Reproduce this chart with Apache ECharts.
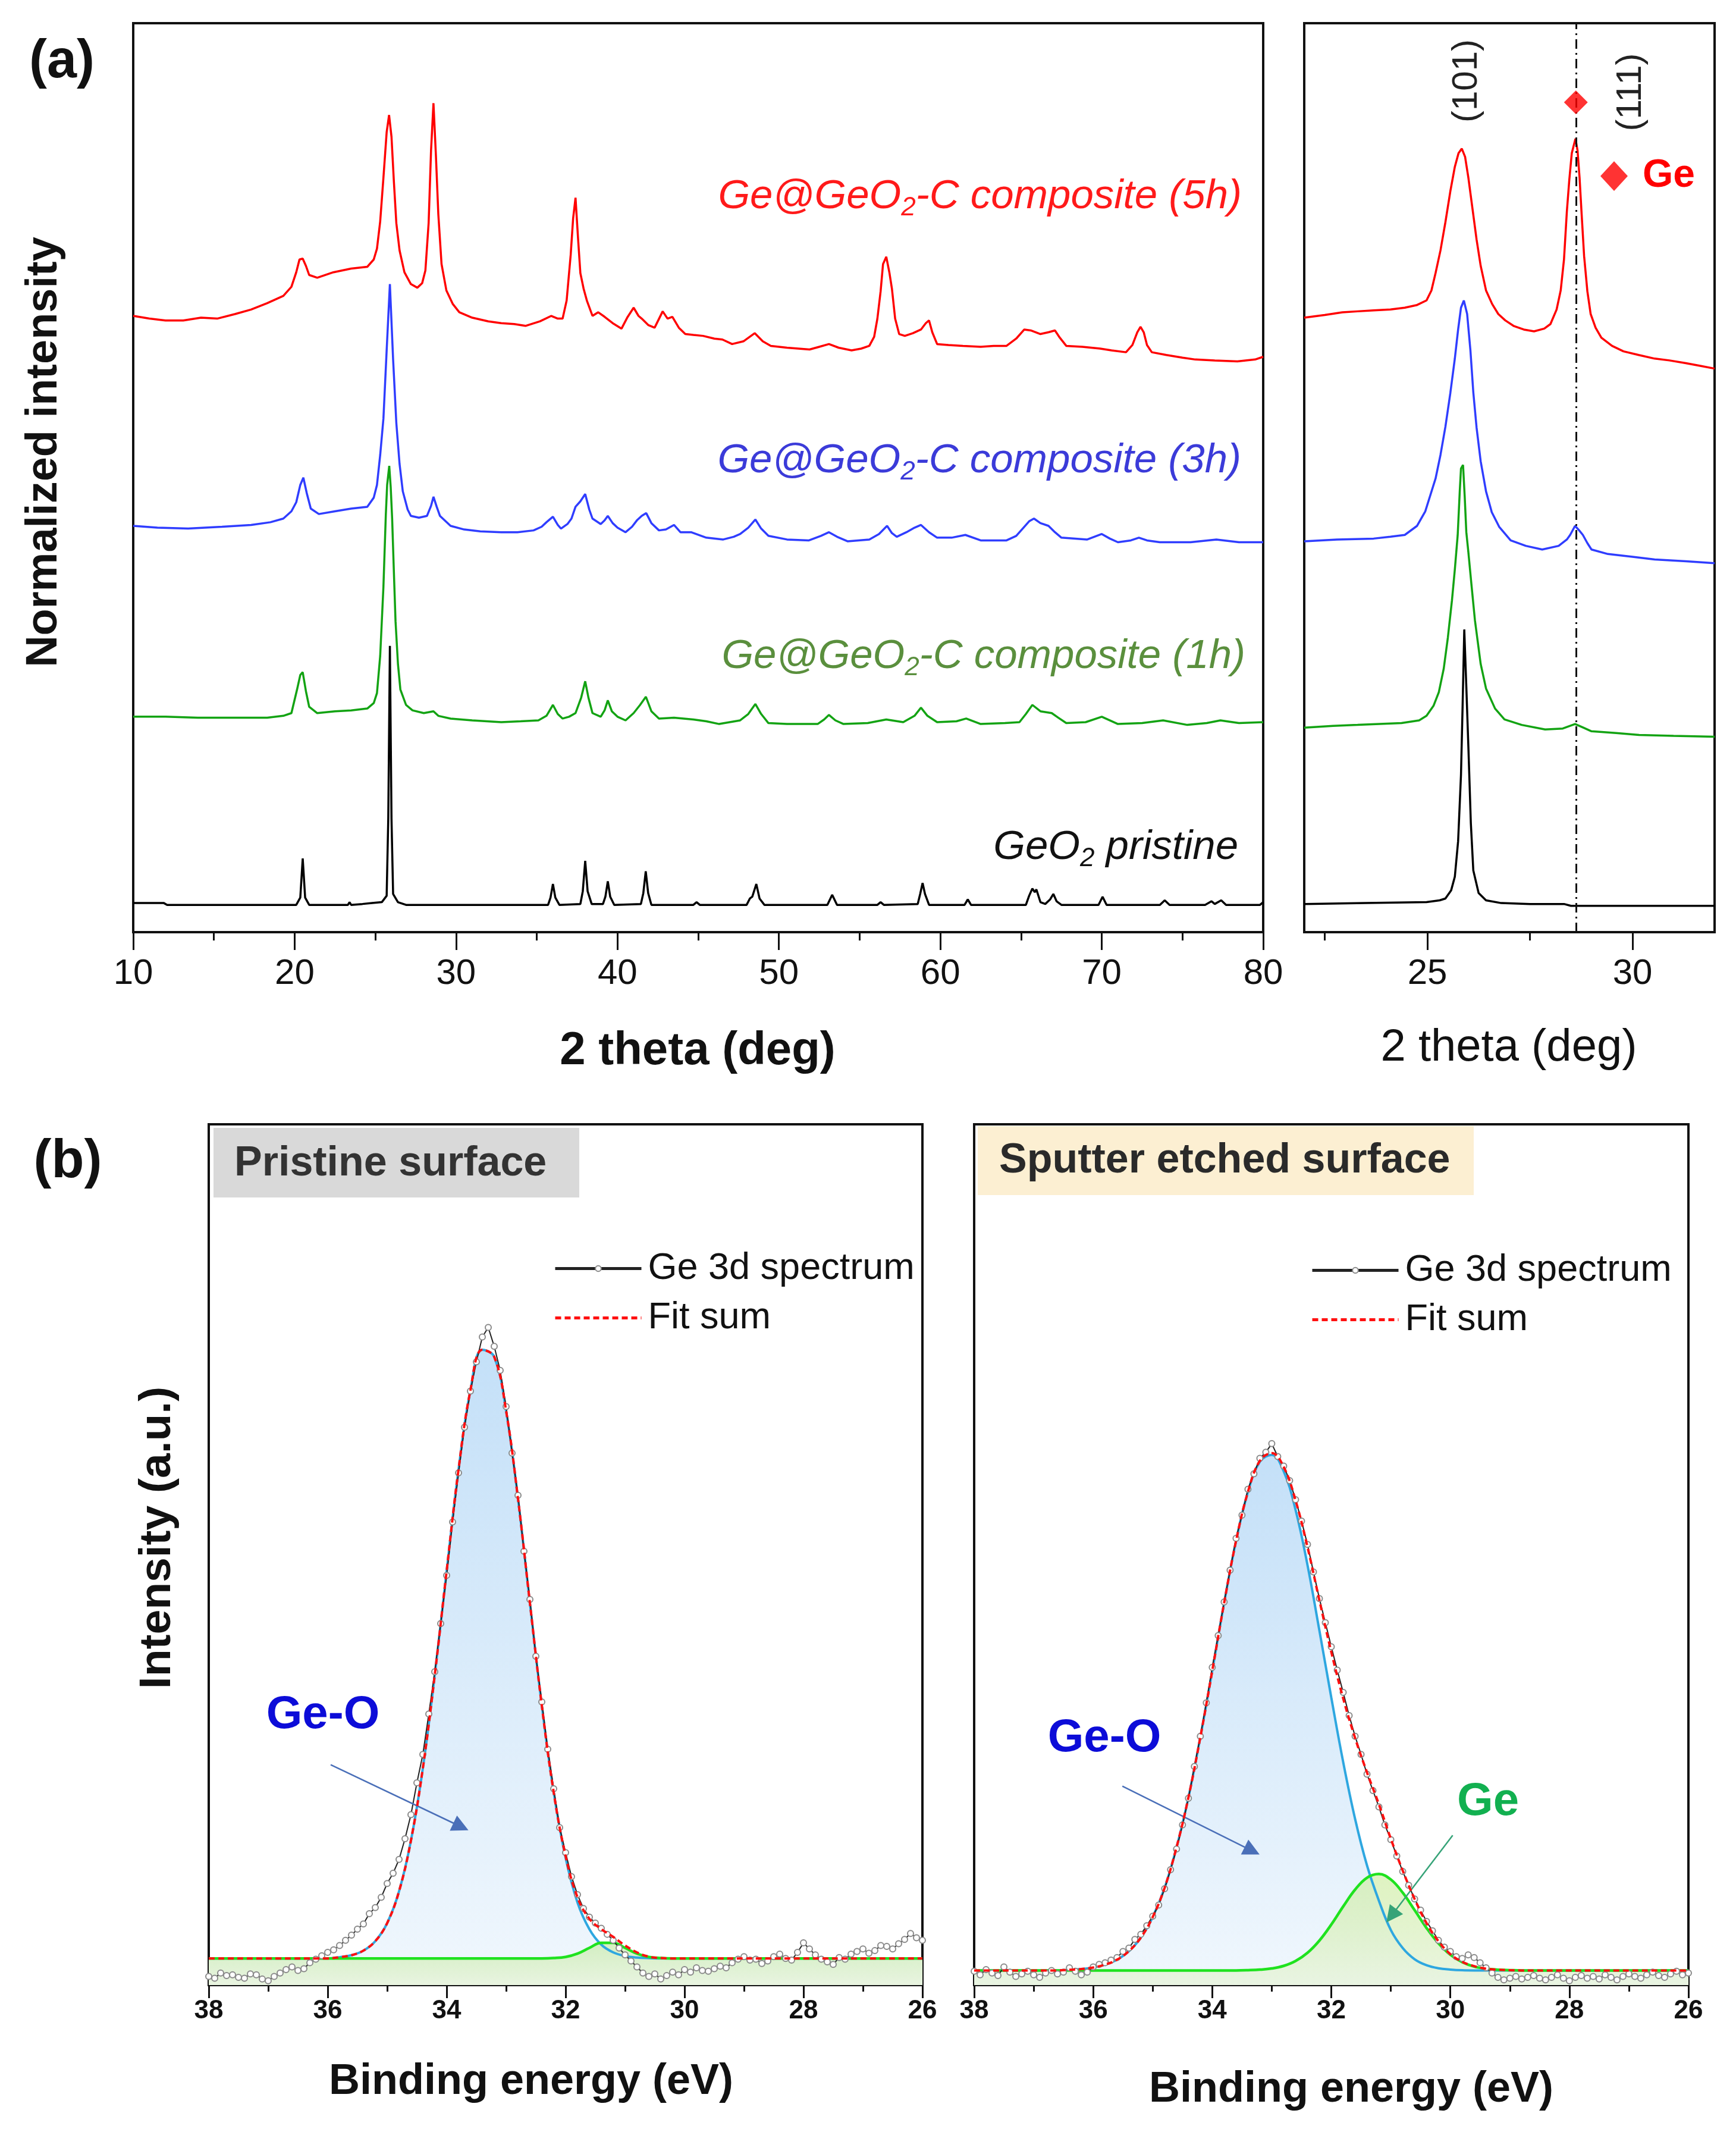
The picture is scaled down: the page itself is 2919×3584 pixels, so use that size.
<!DOCTYPE html>
<html><head><meta charset="utf-8">
<script src="https://cdn.jsdelivr.net/npm/echarts/dist/echarts.min.js"></script>
<style>html,body{margin:0;padding:0;background:#fff}#c{width:2919px;height:3584px}</style>
</head><body><div id="c"></div><script>
// ---------------- Panel (a): XRD, main view (2theta, normalized intensity incl. offset) ----------------
const red5h = [[10.0,67.8],[11.0,67.5],[12.0,67.3],[13.1,67.3],[14.2,67.6],[15.2,67.5],[16.3,68.0],[17.3,68.5],[18.3,69.2],[19.3,70.0],[19.8,71.0],[20.1,72.6],[20.3,74.0],[20.5,74.1],[20.7,73.3],[20.9,72.3],[21.4,72.0],[22.4,72.6],[23.5,73.0],[24.5,73.2],[24.9,74.0],[25.1,75.2],[25.3,78.2],[25.5,83.0],[25.7,88.0],[25.85,89.9],[26.0,87.5],[26.15,82.5],[26.3,78.0],[26.5,75.0],[26.8,72.6],[27.2,71.3],[27.6,70.9],[27.9,71.4],[28.1,72.8],[28.3,78.0],[28.45,86.0],[28.6,91.2],[28.75,85.5],[28.9,79.0],[29.1,73.5],[29.4,70.6],[29.8,69.1],[30.2,68.2],[31.0,67.6],[32.0,67.2],[32.8,67.0],[33.6,66.9],[34.3,66.7],[35.2,67.2],[35.9,67.8],[36.3,67.5],[36.6,67.5],[36.85,69.5],[37.1,74.5],[37.25,78.5],[37.4,80.8],[37.55,76.5],[37.7,72.5],[37.9,70.8],[38.1,69.5],[38.45,67.8],[38.8,68.2],[39.2,67.7],[39.7,67.0],[40.25,66.4],[40.6,67.6],[41.0,68.7],[41.3,67.8],[41.5,67.5],[41.9,66.8],[42.3,66.5],[42.8,68.3],[43.1,67.5],[43.4,67.7],[43.8,66.5],[44.2,65.8],[44.7,65.7],[45.3,65.6],[46.0,65.3],[46.5,65.2],[47.1,64.7],[47.8,65.0],[48.5,65.9],[49.0,65.0],[49.5,64.5],[50.5,64.3],[51.9,64.1],[52.5,64.4],[53.1,64.7],[53.7,64.3],[54.5,64.0],[55.1,64.2],[55.6,64.5],[55.9,65.5],[56.1,67.5],[56.3,70.5],[56.45,73.5],[56.65,74.3],[56.85,72.5],[57.0,70.8],[57.2,67.5],[57.45,65.8],[57.8,65.6],[58.3,65.9],[58.8,66.3],[59.1,67.0],[59.3,67.3],[59.5,66.0],[59.8,64.7],[60.5,64.6],[61.4,64.5],[62.5,64.4],[63.3,64.5],[64.1,64.5],[64.7,65.3],[65.2,66.3],[65.6,66.2],[66.2,65.8],[66.7,66.0],[67.1,66.2],[67.4,65.4],[67.8,64.5],[68.8,64.4],[69.9,64.2],[70.6,64.0],[71.5,63.8],[71.9,64.6],[72.2,66.0],[72.4,66.6],[72.6,66.0],[72.8,64.6],[73.1,63.8],[74.0,63.5],[75.0,63.2],[75.8,63.0],[77.0,62.9],[78.4,62.8],[79.5,63.0],[80.0,63.3]];
const blue3h = [[10.0,44.7],[11.5,44.5],[13.4,44.4],[15.5,44.6],[17.3,44.8],[18.5,45.1],[19.3,45.5],[19.8,46.3],[20.1,47.3],[20.35,49.2],[20.54,50.0],[20.75,48.3],[21.0,46.6],[21.5,46.0],[22.5,46.3],[23.5,46.6],[24.5,46.8],[24.9,47.8],[25.1,49.2],[25.3,52.5],[25.5,56.5],[25.7,64.0],[25.9,71.3],[26.1,63.0],[26.3,56.0],[26.5,51.5],[26.7,48.5],[27.0,46.5],[27.2,45.8],[27.7,45.6],[28.2,45.8],[28.45,46.9],[28.6,47.9],[28.8,46.8],[29.0,45.8],[29.66,44.7],[30.5,44.3],[31.5,44.1],[32.8,44.0],[33.8,44.0],[34.8,44.2],[35.3,44.6],[35.6,45.1],[36.0,45.7],[36.3,44.8],[36.5,44.4],[36.9,44.9],[37.15,45.5],[37.4,46.8],[37.7,47.4],[38.0,48.2],[38.25,46.5],[38.45,45.5],[38.96,44.9],[39.2,45.3],[39.4,45.8],[39.7,45.0],[40.0,44.5],[40.5,44.0],[40.9,44.6],[41.2,45.3],[41.5,45.8],[41.78,46.1],[42.1,45.0],[42.57,44.2],[43.0,44.3],[43.5,44.8],[43.9,44.0],[44.56,44.0],[45.5,43.4],[46.55,43.2],[47.2,43.5],[47.6,43.8],[48.1,44.5],[48.54,45.4],[48.9,44.4],[49.35,43.6],[50.5,43.2],[51.86,43.1],[52.6,43.6],[53.1,44.0],[53.6,43.5],[54.25,43.0],[55.6,43.2],[56.2,43.8],[56.7,44.7],[57.0,43.9],[57.3,43.5],[57.9,44.0],[58.4,44.5],[58.8,44.8],[59.3,44.0],[59.8,43.4],[60.7,43.4],[61.55,43.7],[62.5,43.1],[64.1,43.1],[64.7,43.6],[65.15,44.5],[65.5,45.2],[65.8,45.5],[66.2,45.0],[66.7,44.7],[67.1,44.0],[67.5,43.4],[69.1,43.2],[70.0,43.8],[70.5,43.3],[71.0,42.9],[71.8,43.1],[72.3,43.4],[72.8,43.1],[73.6,42.9],[75.5,42.9],[77.1,43.2],[78.5,42.9],[80.0,42.9]];
const green1h = [[10.0,23.7],[12.0,23.7],[14.0,23.6],[16.0,23.6],[18.3,23.6],[19.3,23.8],[19.8,24.1],[20.15,26.7],[20.35,28.3],[20.5,28.6],[20.7,26.5],[20.9,24.8],[21.4,24.1],[22.5,24.3],[23.5,24.4],[24.5,24.6],[24.9,25.2],[25.1,26.3],[25.3,30.4],[25.5,38.0],[25.65,46.0],[25.73,49.2],[25.86,51.3],[25.95,49.0],[26.04,45.5],[26.15,39.5],[26.25,34.2],[26.4,29.5],[26.55,26.7],[26.9,25.0],[27.3,24.4],[28.0,24.1],[28.3,24.2],[28.6,24.3],[28.9,23.8],[29.66,23.5],[31.0,23.3],[32.8,23.1],[34.0,23.2],[35.1,23.3],[35.6,23.8],[36.0,25.0],[36.3,24.0],[36.6,23.5],[37.0,23.7],[37.4,24.1],[37.75,25.8],[38.0,27.6],[38.2,25.8],[38.45,24.1],[38.96,23.7],[39.2,24.4],[39.4,25.5],[39.65,24.3],[40.0,23.7],[40.5,23.3],[41.0,24.1],[41.4,25.0],[41.76,25.9],[42.1,24.3],[42.57,23.5],[43.5,23.6],[44.7,23.4],[45.5,23.2],[46.3,22.9],[47.6,23.3],[48.1,24.0],[48.54,25.1],[48.9,24.0],[49.35,23.0],[50.5,22.9],[52.4,22.9],[52.8,23.4],[53.1,23.9],[53.5,23.3],[54.0,22.9],[55.5,23.0],[56.65,23.4],[57.7,23.1],[58.4,23.8],[58.8,24.7],[59.2,23.8],[59.8,23.1],[61.0,23.2],[61.6,23.5],[62.5,22.9],[64.0,23.0],[64.9,23.1],[65.3,24.0],[65.7,25.0],[66.2,24.3],[66.9,24.1],[67.3,23.6],[67.8,23.0],[69.0,23.1],[70.0,23.7],[71.0,22.9],[72.5,23.0],[73.8,23.3],[75.3,22.8],[76.5,23.0],[77.35,23.3],[78.5,23.0],[80.0,23.1]];
const blackPristine = [[10.0,3.2],[11.9,3.2],[12.1,3.0],[16.0,3.0],[20.1,3.0],[20.35,3.8],[20.5,8.1],[20.65,3.8],[20.9,3.0],[23.3,3.0],[23.4,3.3],[23.5,3.0],[24.2,3.1],[24.8,3.2],[25.4,3.3],[25.7,4.0],[25.8,12.5],[25.9,31.5],[26.0,12.5],[26.1,4.2],[26.4,3.3],[26.9,3.0],[35.7,3.0],[35.85,3.8],[36.0,5.3],[36.15,3.8],[36.4,3.0],[37.7,3.1],[37.85,4.5],[38.0,7.85],[38.15,4.5],[38.4,3.1],[39.1,3.1],[39.25,3.9],[39.4,5.6],[39.55,3.9],[39.8,3.0],[41.45,3.1],[41.6,4.3],[41.75,6.7],[41.9,4.3],[42.1,3.0],[44.7,3.0],[44.9,3.3],[45.1,3.0],[48.0,3.0],[48.2,3.7],[48.35,3.9],[48.6,5.3],[48.8,3.7],[49.1,3.0],[53.0,3.0],[53.3,4.1],[53.6,3.0],[56.1,3.0],[56.3,3.3],[56.5,3.0],[58.6,3.1],[58.75,4.2],[58.9,5.4],[59.05,4.2],[59.3,3.0],[61.5,3.0],[61.7,3.6],[61.9,3.0],[65.3,3.0],[65.5,4.0],[65.7,4.8],[65.85,4.4],[65.95,4.7],[66.2,3.3],[66.5,3.1],[66.8,3.6],[67.0,4.2],[67.2,3.4],[67.5,3.0],[69.8,3.0],[70.05,3.9],[70.3,3.0],[73.6,3.0],[73.9,3.5],[74.2,3.0],[76.4,3.0],[76.8,3.4],[77.0,3.1],[77.4,3.5],[77.7,3.0],[79.8,3.0],[80.0,3.3]];
// ---------------- Panel (a): inset (22-32 deg) ----------------
const red5hInset = [[22.0,67.6],[22.5,67.9],[22.93,68.2],[23.3,68.3],[23.69,68.4],[24.1,68.5],[24.45,68.7],[24.75,69.0],[24.98,69.5],[25.1,70.6],[25.2,72.5],[25.32,75.0],[25.44,78.1],[25.56,81.5],[25.67,84.2],[25.76,85.7],[25.84,86.2],[25.92,85.3],[26.0,83.0],[26.1,79.6],[26.2,76.2],[26.3,73.3],[26.43,70.6],[26.58,69.1],[26.73,68.0],[26.9,67.3],[27.1,66.7],[27.35,66.3],[27.6,66.1],[27.85,66.4],[28.0,66.9],[28.15,68.5],[28.25,70.6],[28.33,74.0],[28.4,79.3],[28.46,82.8],[28.52,85.7],[28.61,87.3],[28.66,86.0],[28.71,83.0],[28.76,79.0],[28.82,74.4],[28.9,70.5],[28.98,68.0],[29.1,66.5],[29.24,65.4],[29.5,64.5],[29.78,63.9],[30.15,63.5],[30.54,63.1],[30.9,62.9],[31.3,62.6],[31.65,62.3],[32.0,62.0]];
const blue3hInset = [[22.0,43.0],[22.8,43.2],[23.69,43.3],[24.1,43.5],[24.45,43.7],[24.75,44.7],[24.95,46.3],[25.2,49.9],[25.32,52.5],[25.44,55.6],[25.56,59.3],[25.67,63.1],[25.75,66.3],[25.82,68.7],[25.89,69.5],[25.97,68.0],[26.05,64.0],[26.12,59.4],[26.2,55.5],[26.3,51.8],[26.43,48.5],[26.57,46.2],[26.75,44.6],[27.03,43.1],[27.4,42.5],[27.8,42.1],[28.2,42.5],[28.4,43.2],[28.48,43.7],[28.6,44.7],[28.7,44.2],[28.79,43.7],[28.9,42.8],[29.0,42.1],[29.4,41.6],[30.0,41.3],[30.54,41.0],[31.3,40.8],[32.0,40.6]];
const green1hInset = [[22.0,22.5],[22.7,22.7],[23.3,22.8],[24.37,23.0],[24.8,23.3],[24.98,23.8],[25.15,24.9],[25.28,26.4],[25.4,29.0],[25.5,32.4],[25.6,36.5],[25.67,39.9],[25.74,43.7],[25.79,48.5],[25.82,51.0],[25.87,51.4],[25.91,48.0],[25.95,44.0],[26.0,41.8],[26.08,38.0],[26.16,34.3],[26.3,29.5],[26.43,26.8],[26.65,24.6],[26.88,23.4],[27.3,22.8],[27.87,22.3],[28.3,22.4],[28.6,22.9],[28.8,22.5],[29.0,22.1],[29.6,21.9],[30.16,21.7],[31.0,21.6],[32.0,21.5]];
const blackInset = [[22.0,3.1],[23.5,3.2],[24.98,3.3],[25.3,3.5],[25.44,3.7],[25.58,4.6],[25.67,6.1],[25.75,10.0],[25.82,17.3],[25.86,25.0],[25.9,33.3],[25.95,27.0],[26.0,20.4],[26.06,12.0],[26.12,6.8],[26.25,4.3],[26.43,3.5],[26.8,3.2],[27.5,3.1],[28.33,3.1],[28.5,2.9],[32.0,2.9]];
const geMarker = [[28.62, 91.3]];
const geLine = 28.62;
const mainTicks = [10, 80, 10];
const insetMajor = [25, 30];
const insetMinor = [22.5, 27.5];
// ---------------- Panel (b): XPS Ge 3d ----------------
const beData = [38.0,37.9,37.8,37.7,37.6,37.5,37.4,37.3,37.2,37.1,37.0,36.9,36.8,36.7,36.6,36.5,36.4,36.3,36.2,36.1,36.0,35.9,35.8,35.7,35.6,35.5,35.4,35.3,35.2,35.1,35.0,34.9,34.8,34.7,34.6,34.5,34.4,34.3,34.2,34.1,34.0,33.9,33.8,33.7,33.6,33.5,33.4,33.3,33.2,33.1,33.0,32.9,32.8,32.7,32.6,32.5,32.4,32.3,32.2,32.1,32.0,31.9,31.8,31.7,31.6,31.5,31.4,31.3,31.2,31.1,31.0,30.9,30.8,30.7,30.6,30.5,30.4,30.3,30.2,30.1,30.0,29.9,29.8,29.7,29.6,29.5,29.4,29.3,29.2,29.1,29.0,28.9,28.8,28.7,28.6,28.5,28.4,28.3,28.2,28.1,28.0,27.9,27.8,27.7,27.6,27.5,27.4,27.3,27.2,27.1,27.0,26.9,26.8,26.7,26.6,26.5,26.4,26.3,26.2,26.1,26.0];
const pristineSpectrum = [1.0,0.8,1.4,1.1,1.2,0.9,0.8,1.3,1.2,0.7,0.5,1.0,1.4,1.8,2.1,1.7,1.9,2.6,3.0,3.4,3.8,4.1,4.6,5.2,5.8,6.5,7.1,8.3,9.0,10.2,11.8,13.0,14.6,17.0,19.8,23.5,26.8,31.5,36.4,42.0,47.6,53.8,59.5,64.8,69.0,72.4,75.3,76.4,74.2,71.4,67.2,61.8,56.9,50.4,44.8,38.2,32.9,27.4,22.8,18.3,15.4,12.6,10.5,8.9,7.9,7.2,6.6,5.9,5.2,4.3,3.5,2.8,2.1,1.4,1.0,1.3,0.7,1.1,1.5,1.2,1.8,1.5,2.0,1.7,1.6,1.9,2.2,2.0,2.6,3.0,3.3,2.9,3.0,2.5,2.8,3.3,3.6,3.1,2.9,3.8,4.9,4.2,3.5,3.0,2.7,2.4,3.2,3.0,3.6,3.9,4.2,3.7,4.0,4.6,4.5,4.2,4.8,5.3,6.0,5.5,5.2];
const etchedSpectrum = [1.6,1.2,1.8,1.4,1.1,2.1,1.5,1.0,1.3,1.6,1.2,0.9,1.4,1.7,1.3,1.5,2.0,1.6,1.2,1.5,2.1,2.4,2.6,2.9,3.2,3.9,4.3,5.3,5.9,6.9,8.0,9.3,11.2,13.4,15.8,18.6,21.7,25.4,28.9,32.8,36.9,40.6,44.5,48.2,51.9,54.6,57.6,59.4,61.2,61.9,62.9,61.4,60.3,58.6,56.4,53.9,51.2,48.0,44.9,42.1,39.3,36.6,34.0,31.3,28.9,26.8,24.5,22.6,20.7,18.6,16.9,15.0,13.2,11.6,10.0,8.7,7.4,6.3,5.2,4.4,3.9,3.3,3.1,3.5,3.2,2.6,2.0,1.4,0.9,0.6,0.8,1.0,0.7,0.9,1.1,0.8,0.6,0.9,1.2,0.8,0.5,0.9,1.1,0.8,1.0,0.7,1.2,0.9,0.6,1.0,1.3,1.0,0.8,1.2,1.5,1.1,0.9,1.3,1.6,1.2,1.4];
const beFit = [38.0,37.8,37.6,37.4,37.2,37.0,36.8,36.6,36.4,36.2,36.0,35.8,35.6,35.4,35.2,35.0,34.8,34.6,34.4,34.2,34.0,33.8,33.6,33.4,33.2,33.0,32.8,32.6,32.4,32.2,32.0,31.8,31.6,31.4,31.2,31.0,30.8,30.6,30.4,30.2,30.0,29.8,29.6,29.4,29.2,29.0,28.8,28.6,28.4,28.2,28.0,27.8,27.6,27.4,27.2,27.0,26.8,26.6,26.4,26.2,26.0];
const pristineGeO = [3.1,3.1,3.1,3.1,3.1,3.1,3.1,3.1,3.1,3.1,3.1,3.24,3.47,4.0,5.1,7.2,10.9,16.8,25.2,36.0,48.1,59.9,69.1,73.8,73.0,66.7,56.5,44.4,32.5,22.4,14.8,9.6,6.5,4.7,3.8,3.38,3.2,3.13,3.1,3.1,3.1,3.1,3.1,3.1,3.1,3.1,3.1,3.1,3.1,3.1,3.1,3.1,3.1,3.1,3.1,3.1,3.1,3.1,3.1,3.1,3.1];
const pristineGe = [3.1,3.1,3.1,3.1,3.1,3.1,3.1,3.1,3.1,3.1,3.1,3.1,3.1,3.1,3.1,3.1,3.1,3.1,3.1,3.1,3.1,3.1,3.1,3.1,3.1,3.1,3.1,3.1,3.1,3.14,3.27,3.66,4.32,4.91,4.91,4.32,3.66,3.27,3.14,3.1,3.1,3.1,3.1,3.1,3.1,3.1,3.1,3.1,3.1,3.1,3.1,3.1,3.1,3.1,3.1,3.1,3.1,3.1,3.1,3.1,3.1];
const pristineFit = [3.1,3.1,3.1,3.1,3.1,3.1,3.1,3.1,3.1,3.1,3.1,3.24,3.47,4.0,5.1,7.2,10.9,16.8,25.2,36.0,48.1,59.9,69.1,73.8,73.0,66.7,56.5,44.4,32.5,22.4,15.0,10.2,7.7,6.5,5.6,4.6,3.8,3.3,3.14,3.1,3.1,3.1,3.1,3.1,3.1,3.1,3.1,3.1,3.1,3.1,3.1,3.1,3.1,3.1,3.1,3.1,3.1,3.1,3.1,3.1,3.1];
const etchedGeO = [1.7,1.7,1.7,1.7,1.7,1.7,1.7,1.7,1.78,1.86,2.04,2.37,2.95,3.94,5.51,7.9,11.3,16.0,21.8,28.8,36.5,44.4,51.6,57.3,60.8,61.6,59.7,55.2,48.8,41.2,33.4,25.9,19.3,13.9,9.8,6.4,4.3,3.0,2.3,1.95,1.8,1.72,1.7,1.7,1.7,1.7,1.7,1.7,1.7,1.7,1.7,1.7,1.7,1.7,1.7,1.7,1.7,1.7,1.7,1.7,1.7];
const etchedGe = [1.7,1.7,1.7,1.7,1.7,1.7,1.7,1.7,1.7,1.7,1.7,1.7,1.7,1.7,1.7,1.7,1.7,1.7,1.7,1.7,1.7,1.7,1.7,1.73,1.79,1.93,2.23,2.8,3.75,5.17,7.03,9.13,11.09,12.47,12.9,12.26,10.73,8.7,6.63,4.85,3.52,2.66,2.15,1.9,1.78,1.73,1.7,1.7,1.7,1.7,1.7,1.7,1.7,1.7,1.7,1.7,1.7,1.7,1.7,1.7,1.7];
const etchedFit = [1.7,1.7,1.7,1.7,1.7,1.7,1.7,1.7,1.78,1.86,2.04,2.37,2.95,3.94,5.51,7.9,11.3,16.0,21.8,28.8,36.5,44.4,51.6,57.3,60.9,61.8,60.2,56.3,50.9,44.7,38.7,33.3,28.7,24.7,21.0,17.0,13.3,10.0,7.2,5.1,3.6,2.7,2.2,1.9,1.78,1.73,1.7,1.7,1.7,1.7,1.7,1.7,1.7,1.7,1.7,1.7,1.7,1.7,1.7,1.7,1.7];
const xpsTicks = [26, 38, 2];

// ---------------- build chart ----------------
const FONT = "'Liberation Sans', Arial, Helvetica, sans-serif";
const zip = (xs, ys) => xs.map((x, i) => [x, ys[i]]);
const grad = (a, b) => new echarts.graphic.LinearGradient(0, 0, 0, 1, [{offset: 0, color: a}, {offset: 1, color: b}]);

function ln(name, data, color, xi, yi, w, extra) {
  return Object.assign({name, type: 'line', xAxisIndex: xi, yAxisIndex: yi, data, showSymbol: false, symbol: 'none',
    lineStyle: {color, width: w}, itemStyle: {color}, silent: true, z: 3}, extra || {});
}
function area(data, xi, yi, a, b, z) {
  return {type: 'line', xAxisIndex: xi, yAxisIndex: yi, data, showSymbol: false, symbol: 'none', silent: true,
    lineStyle: {width: 0}, areaStyle: {color: grad(a, b), opacity: 1}, smooth: 0.4, z: z};
}
function arrow(from, to, color) {
  return [{coord: from, symbol: 'none', lineStyle: {color, width: 2.5, type: 'solid'}},
          {coord: to, symbol: 'triangle', symbolSize: 28, lineStyle: {color, width: 2.5, type: 'solid'}, itemStyle: {color}}];
}
const mlBase = {silent: true, animation: false, label: {show: false}, emphasis: {disabled: true}, lineStyle: {type: 'solid', width: 2.5}};

const axisLineS = {lineStyle: {color: '#111', width: 4}};
const xMain = {type: 'value', gridIndex: 0, min: mainTicks[0], max: mainTicks[1], interval: mainTicks[2],
  axisLine: axisLineS, axisTick: {length: 30, lineStyle: {color: '#111', width: 3}},
  minorTick: {show: true, splitNumber: 2, length: 14, lineStyle: {color: '#111', width: 3}},
  axisLabel: {fontSize: 60, color: '#111', fontFamily: FONT, margin: 40}, splitLine: {show: false}};
const xInset = {type: 'value', gridIndex: 1, min: 22, max: 32, position: 'bottom',
  axisLine: axisLineS, axisTick: {length: 30, customValues: insetMajor, lineStyle: {color: '#111', width: 3}},
  axisLabel: {customValues: insetMajor, fontSize: 60, color: '#111', fontFamily: FONT, margin: 40}, splitLine: {show: false}};
const xInsetMinor = {type: 'value', gridIndex: 1, min: 22, max: 32, position: 'bottom',
  axisLine: {show: false}, axisTick: {length: 14, customValues: insetMinor, lineStyle: {color: '#111', width: 3}},
  axisLabel: {show: false}, splitLine: {show: false}};
function xXps(gi) {
  return {type: 'value', gridIndex: gi, min: xpsTicks[0], max: xpsTicks[1], interval: xpsTicks[2], inverse: true,
    axisLine: axisLineS, axisTick: {length: 22, lineStyle: {color: '#111', width: 3}},
    minorTick: {show: true, splitNumber: 2, length: 11, lineStyle: {color: '#111', width: 3}},
    axisLabel: {fontSize: 44, fontWeight: 'bold', color: '#111', fontFamily: FONT, margin: 22}, splitLine: {show: false}};
}
const yHidden = gi => ({type: 'value', gridIndex: gi, min: 0, max: 100, show: false});
const gridS = {show: true, borderColor: '#111', borderWidth: 4, backgroundColor: 'transparent'};

function T(x, y, text, size, o) {
  o = o || {};
  return {type: 'text', x, y, rotation: o.rot || 0, z: 20, silent: true,
    style: {text, fontSize: size, fontFamily: FONT, fontWeight: o.bold ? 'bold' : 'normal', fontStyle: o.italic ? 'italic' : 'normal',
      fill: o.color || '#111', align: o.align || 'center', verticalAlign: 'middle', rich: o.rich}};
}
function subLabel(x, y, pre, sub, post, color) {
  const r = {n: {fontSize: 69, fontStyle: 'italic', fontFamily: FONT, fill: color, lineHeight: 69, verticalAlign: 'top'},
             s: {fontSize: 44, fontStyle: 'italic', fontFamily: FONT, fill: color, lineHeight: 44, verticalAlign: 'top', padding: [31, 0, 0, 0]}};
  return T(x, y, '{n|' + pre + '}{s|' + sub + '}{n|' + post + '}', 69, {align: 'right', italic: true, color, rich: r});
}
const legendXps = (left, top) => ({data: ['Ge 3d spectrum', {name: 'Fit sum', itemStyle: {opacity: 0}}], left, top, orient: 'vertical',
  itemWidth: 145, itemHeight: 12, itemGap: 20, selectedMode: false, lineStyle: {width: 5},
  textStyle: {fontSize: 63, color: '#111', fontFamily: FONT, padding: [0, 0, 0, 6]}});

const option = {
  animation: false,
  backgroundColor: '#ffffff',
  grid: [
    Object.assign({left: 224, top: 39, width: 1900, height: 1528}, gridS),
    Object.assign({left: 2193, top: 39, width: 690, height: 1528}, gridS),
    Object.assign({left: 351, top: 1890, width: 1200, height: 1447}, gridS),
    Object.assign({left: 1638, top: 1890, width: 1201, height: 1447}, gridS)
  ],
  xAxis: [xMain, xInset, xInsetMinor, xXps(2), xXps(3)],
  yAxis: [yHidden(0), yHidden(1), yHidden(2), yHidden(3)],
  legend: [
    legendXps(926, 2096),
    legendXps(2199, 2099),
    {data: ['Ge'], left: 2686, top: 258, icon: 'diamond', itemWidth: 46, itemHeight: 50, selectedMode: false,
      textStyle: {fontSize: 66, fontWeight: 'bold', color: '#ff0000', fontFamily: FONT, padding: [0, 0, 0, 20]}}
  ],
  series: [
    ln('5h', red5h, '#ff0000', 0, 0, 3.5),
    ln('3h', blue3h, '#2f3dff', 0, 0, 3.5),
    ln('1h', green1h, '#13a313', 0, 0, 3.5),
    ln('pristine', blackPristine, '#000000', 0, 0, 3.5),
    ln('5h-i', red5hInset, '#ff0000', 1, 1, 3.5),
    ln('3h-i', blue3hInset, '#2f3dff', 1, 1, 3.5),
    ln('1h-i', green1hInset, '#13a313', 1, 1, 3.5),
    ln('pristine-i', blackInset, '#000000', 1, 1, 3.5),
    {name: 'Ge', type: 'scatter', xAxisIndex: 1, yAxisIndex: 1, data: geMarker, symbol: 'diamond', symbolSize: 40,
      itemStyle: {color: '#ff0000'}, silent: true, z: 6,
      markLine: Object.assign({}, mlBase, {symbol: 'none', lineStyle: {color: '#111', width: 3, type: [16, 7, 3, 7]}, data: [{xAxis: geLine}]})},
    // XPS pristine
    area(zip(beFit, pristineGeO), 3, 2, 'rgba(196,224,248,1)', 'rgba(240,247,253,1)', 1),
    area(zip(beFit, pristineGe), 3, 2, 'rgba(205,236,180,0.8)', 'rgba(232,244,222,0.9)', 1),
    ln('GeO-L', zip(beFit, pristineGeO), '#2ea7e0', 3, 2, 4, {smooth: 0.4}),
    ln('Ge-L', zip(beFit, pristineGe), '#1fe21f', 3, 2, 4.5, {smooth: 0.4}),
    {name: 'Ge 3d spectrum', type: 'line', xAxisIndex: 3, yAxisIndex: 2, data: zip(beData, pristineSpectrum), symbol: 'emptyCircle', symbolSize: 10,
      showSymbol: true, lineStyle: {color: '#222', width: 2}, itemStyle: {color: '#8a8a8a', borderWidth: 1.5}, silent: true, z: 4,
      markLine: Object.assign({}, mlBase, {data: [arrow([35.95, 25.6], [33.76, 18.4], '#4a6fb8')]})},
    ln('Fit sum', zip(beFit, pristineFit), '#ff1010', 3, 2, 4, {smooth: 0.4, lineStyle: {color: '#ff1010', width: 4, type: [10, 6]}, z: 5}),
    // XPS etched
    area(zip(beFit, etchedGeO), 4, 3, 'rgba(196,224,248,1)', 'rgba(240,247,253,1)', 1),
    area(zip(beFit, etchedGe), 4, 3, 'rgba(205,236,160,0.65)', 'rgba(232,244,222,0.85)', 1),
    ln('GeO-R', zip(beFit, etchedGeO), '#2ea7e0', 4, 3, 4, {smooth: 0.4}),
    ln('Ge-R', zip(beFit, etchedGe), '#1fe21f', 4, 3, 4.5, {smooth: 0.4}),
    {name: 'Ge 3d spectrum', type: 'line', xAxisIndex: 4, yAxisIndex: 3, data: zip(beData, etchedSpectrum), symbol: 'emptyCircle', symbolSize: 10,
      showSymbol: true, lineStyle: {color: '#222', width: 2}, itemStyle: {color: '#8a8a8a', borderWidth: 1.5}, silent: true, z: 4,
      markLine: Object.assign({}, mlBase, {data: [arrow([35.51, 23.1], [33.33, 15.6], '#4a6fb8'), arrow([29.96, 17.4], [30.99, 8.05], '#36a378')]})},
    ln('Fit sum', zip(beFit, etchedFit), '#ff1010', 4, 3, 4, {smooth: 0.4, lineStyle: {color: '#ff1010', width: 4, type: [10, 6]}, z: 5})
  ],
  graphic: [
    T(104, 105, '(a)', 90, {bold: true}),
    T(114, 1954, '(b)', 90, {bold: true}),
    T(75, 760, 'Normalized intensity', 74, {bold: true, rot: Math.PI / 2}),
    T(1173, 1767, '2 theta (deg)', 78, {bold: true}),
    T(2537, 1762, '2 theta (deg)', 76),
    subLabel(2088, 331, 'Ge@GeO', '2', '-C composite (5h)', '#ff1a1a'),
    subLabel(2087, 775, 'Ge@GeO', '2', '-C composite (3h)', '#3b3bd9'),
    subLabel(2094, 1104, 'Ge@GeO', '2', '-C composite (1h)', '#5a8f3d'),
    subLabel(2082, 1425, 'GeO', '2', ' pristine', '#111111'),
    T(2466, 136, '(101)', 60, {rot: Math.PI / 2, color: '#222'}),
    T(2742, 155, '(111)', 60, {rot: Math.PI / 2, color: '#222'}),
    {type: 'rect', z: 15, silent: true, shape: {x: 359, y: 1896, width: 615, height: 117}, style: {fill: '#d9d9d9'}},
    T(394, 1957, 'Pristine surface', 70, {bold: true, align: 'left', color: '#333'}),
    {type: 'rect', z: 15, silent: true, shape: {x: 1644, y: 1893, width: 834, height: 116}, style: {fill: '#fcefd2'}},
    T(1680, 1952, 'Sputter etched surface', 70, {bold: true, align: 'left', color: '#2a2a2a'}),
    T(265, 2585, 'Intensity (a.u.)', 75, {bold: true, rot: Math.PI / 2}),
    T(893, 3500, 'Binding energy (eV)', 72, {bold: true}),
    T(2272, 3513, 'Binding energy (eV)', 72, {bold: true}),
    T(543, 2883, 'Ge-O', 78, {bold: true, color: '#0c0cd8'}),
    T(1857, 2922, 'Ge-O', 78, {bold: true, color: '#0c0cd8'}),
    T(2502, 3029, 'Ge', 78, {bold: true, color: '#12b050'})
  ]
};
const chart = echarts.init(document.getElementById('c'), null, {renderer: 'canvas'});
chart.setOption(option);
</script></body></html>
